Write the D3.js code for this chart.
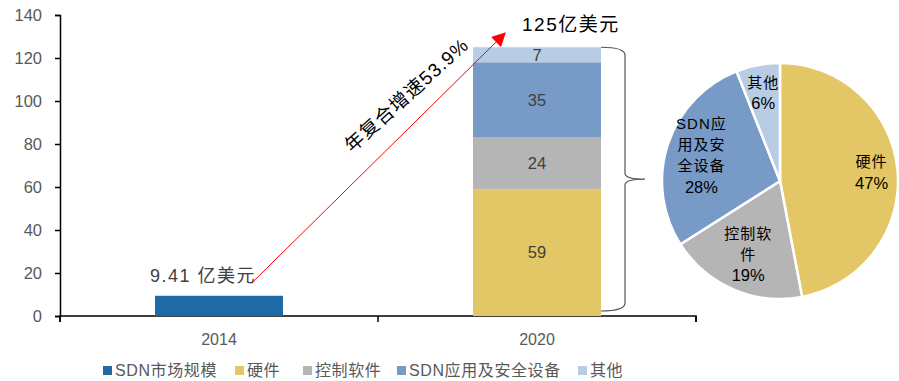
<!DOCTYPE html>
<html>
<head>
<meta charset="utf-8">
<script src="https://cdn.jsdelivr.net/npm/d3@7"></script>
<style>
  body { margin: 0; background: #fff; }
  text { font-family: Arial, "Liberation Sans", "Noto Sans CJK SC", sans-serif; }
</style>
</head>
<body>
<div id="chart"></div>
<script>
const years = ["2014", "2020"];
const marketSize = [9.41, null];
const segments = ["硬件", "控制软件", "SDN应用及安全设备", "其他"];
const segValues2020 = [59, 24, 35, 7];
const pieShares = [47, 19, 28, 6];
const pieLabels = [["硬件", "47%"], ["控制软", "件", "19%"], ["SDN应", "用及安", "全设备", "28%"], ["其他", "6%"]];
const yTicks = [0, 20, 40, 60, 80, 100, 120, 140];
const legendNames = ["SDN市场规模", "硬件", "控制软件", "SDN应用及安全设备", "其他"];
const cagrText = "年复合增速53.9%";
const startLabel = "9.41 亿美元";
const endLabel = "125亿美元";

const colors = ["#1f69a4", "#e3c766", "#b5b5b5", "#779ac7", "#b8cce4"];

const width = 899, height = 381;
const svg = d3.select("#chart").append("svg")
  .attr("width", width)
  .attr("height", height);

const x = d3.scaleBand().domain(years).range([60, 696]).paddingInner(0).paddingOuter(0);
const y = d3.scaleLinear().domain([0, 140]).range([316, 15]);
const barW = 128;

// axes
const yAxis = svg.append("g").attr("transform", "translate(60,0)")
  .call(d3.axisLeft(y).tickValues(yTicks).tickSize(5).tickPadding(13));
const xAxis = svg.append("g").attr("transform", "translate(0,316)")
  .call(d3.axisBottom(x).tickSize(0).tickPadding(18));
[yAxis, xAxis].forEach(a => {
  a.select(".domain").attr("stroke", "#000").attr("stroke-width", 1.5);
  a.selectAll(".tick line").attr("stroke", "#000").attr("stroke-width", 1.5);
  a.selectAll("text").attr("fill", "#595959").style("font-size", "16.5px");
});
xAxis.selectAll("text").style("font-size", "16px");
xAxis.selectAll(".domain").attr("d", "M60,6V0H696V6");
// category boundary ticks
svg.append("g").selectAll("line")
  .data([60, x.step() + 60, 2 * x.step() + 60])
  .join("line")
  .attr("x1", d => d).attr("x2", d => d)
  .attr("y1", 316).attr("y2", 322)
  .attr("stroke", "#000").attr("stroke-width", 1.5);

// 2014 bar
svg.append("rect")
  .attr("x", x("2014") + x.bandwidth() / 2 - barW / 2)
  .attr("y", y(marketSize[0]))
  .attr("width", barW)
  .attr("height", y(0) - y(marketSize[0]))
  .attr("fill", colors[0]);

// 2020 stacked
let acc = 0;
const stack = segValues2020.map((v, i) => {
  const d = { v, y0: acc, y1: acc + v, c: colors[i + 1] };
  acc += v;
  return d;
});
const total2020 = acc;
const bx = x("2020") + x.bandwidth() / 2 - barW / 2;
const sg = svg.append("g");
sg.selectAll("rect").data(stack).join("rect")
  .attr("x", bx)
  .attr("y", d => y(d.y1))
  .attr("width", barW)
  .attr("height", d => y(d.y0) - y(d.y1))
  .attr("fill", d => d.c);
sg.selectAll("text").data(stack).join("text")
  .attr("x", bx + barW / 2)
  .attr("y", d => y((d.y0 + d.y1) / 2))
  .attr("dy", "0.35em")
  .attr("text-anchor", "middle")
  .attr("fill", "#404040")
  .style("font-size", "16.5px")
  .text(d => d.v);

// labels
svg.append("text")
  .attr("x", x("2014") + x.bandwidth() / 2 - barW / 2 - 5)
  .attr("y", y(marketSize[0]) - 14)
  .attr("fill", "#404040").style("font-size", "18px").style("letter-spacing", "1.5px")
  .text(startLabel);
svg.append("text")
  .attr("x", bx + 49)
  .attr("y", y(total2020) - 16)
  .attr("fill", "#000").style("font-size", "19px").style("letter-spacing", "1.5px")
  .text(endLabel);

// arrow
svg.append("defs").append("marker")
  .attr("id", "arr").attr("viewBox", "0 0 10 10")
  .attr("refX", 9).attr("refY", 5)
  .attr("markerWidth", 14).attr("markerHeight", 14)
  .attr("markerUnits", "userSpaceOnUse")
  .attr("orient", "auto")
  .append("path").attr("d", "M0,0L10,5L0,10z").attr("fill", "#ff0000");
const ax0 = x("2014") + x.bandwidth() / 2 + 34, ay0 = y(marketSize[0]) - 14;
const ax1 = bx + 32, ay1 = y(total2020) - 14;
svg.append("line")
  .attr("x1", ax0).attr("y1", ay0)
  .attr("x2", ax1).attr("y2", ay1)
  .attr("stroke", "#ff0000").attr("stroke-width", 1)
  .attr("marker-end", "url(#arr)");
svg.append("text")
  .attr("transform", "translate(411,100) rotate(-42)")
  .attr("text-anchor", "middle")
  .attr("fill", "#000").style("font-size", "19px").style("letter-spacing", "1px")
  .text(cagrText);

// brace
const bTop = y(total2020), bBot = y(0) - 5, bMid = (bTop + bBot) / 2;
const bxL = bx + barW, bxV = bxL + 24, bxT = bxL + 44;
svg.append("path")
  .attr("d", `M${bxL},${bTop} Q${bxV},${bTop} ${bxV},${bTop + 8} L${bxV},${bMid - 6} Q${bxV},${bMid} ${bxT},${bMid} Q${bxV},${bMid} ${bxV},${bMid + 6} L${bxV},${bBot - 8} Q${bxV},${bBot} ${bxL},${bBot}`)
  .attr("fill", "none").attr("stroke", "#555").attr("stroke-width", 1.2);

// pie
const cx = 780, cy = 181, R = 118;
const pie = d3.pie().sort(null).value(d => d);
const arcs = pie(pieShares);
const arc = d3.arc().innerRadius(0).outerRadius(R);
const pg = svg.append("g").attr("transform", `translate(${cx},${cy})`);
pg.selectAll("path").data(arcs).join("path")
  .attr("d", arc)
  .attr("fill", (d, i) => colors[i + 1])
  .attr("stroke", "#fff").attr("stroke-width", 2.5);
const labelR = [0.78, 0.68, 0.7, 0.76];
const lh = 21;
pg.selectAll("text.pl").data(arcs).join("text")
  .attr("class", "pl")
  .attr("text-anchor", "middle")
  .attr("fill", "#000")
  .each(function (d, i) {
    const c = d3.arc().innerRadius(0).outerRadius(R * labelR[i] * 2).centroid(d);
    const lines = pieLabels[i];
    const t = d3.select(this);
    lines.forEach((ln, k) => {
      t.append("tspan")
        .attr("x", c[0])
        .attr("y", c[1] + (k - (lines.length - 1) / 2) * lh)
        .attr("dy", "0.35em")
        .style("font-size", k === lines.length - 1 ? "16.5px" : "15px")
        .style("letter-spacing", k === lines.length - 1 ? "0px" : "1px")
        .text(ln);
    });
  });

// legend
const legX = [103, 235, 303, 397, 578];
const lg = svg.append("g").selectAll("g").data(legendNames).join("g")
  .attr("transform", (d, i) => `translate(${legX[i]},366)`);
lg.append("rect").attr("width", 9).attr("height", 9).attr("fill", (d, i) => colors[i]);
lg.append("text").attr("x", 12).attr("y", 4.5).attr("dy", "0.35em")
  .attr("fill", "#595959").style("font-size", "16px").style("letter-spacing", "0.6px")
  .text(d => d);
</script>
</body>
</html>
